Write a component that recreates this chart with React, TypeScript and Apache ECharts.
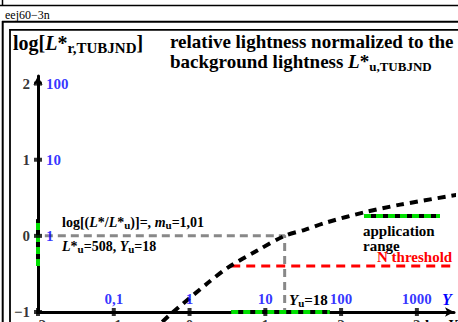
import React, { useEffect, useRef } from 'react';
import * as echarts from 'echarts';

// x: log Y (tristimulus value), y: log of relative lightness L*/L*u
const xTicks = [-2, -1, 0, 1, 2, 3];
const xTickLabels = ['−2', '−1', '0', '1', '2', '3'];
const yLinearTicks = [-1, 0, 1, 2, 3];
const yLinearLabels = ['0,1', '1', '10', '100', '1000'];
const yTicks = [-1, 0, 1, 2];
const yTickLabels = ['−1', '0', '1', '2'];
const ratioLabels = ['', '1', '10', '100'];

const curveLogY = [-0.36, -0.24, 0.24, 0.5, 0.9, 1.255, 1.52, 1.82, 2.31, 2.78, 3.54];
const curveLogL = [-1.13, -1.02, -0.62, -0.42, -0.19, 0.0, 0.08, 0.18, 0.31, 0.41, 0.54];

const Yu = 18;
const logYu = Math.log10(Yu);
const grayStartLogY = -1.91;
const thresholdLogL = -0.395;
const thresholdLogY = [0.55, 3.46];
const appRangeLogY = [0.55, 1.85];
const appRangeLogL = [-0.395, 0.22];

const FONT = '"Liberation Serif", "Times New Roman", serif';
const BLUE = '#0000ff';

const rich = (size: number, sub: number, lh: number) => ({
  b: { fontFamily: FONT, fontWeight: 'bold', fontSize: size, lineHeight: lh, fill: '#000' },
  bi: { fontFamily: FONT, fontWeight: 'bold', fontStyle: 'italic', fontSize: size, lineHeight: lh, fill: '#000' },
  s: { fontFamily: FONT, fontWeight: 'bold', fontSize: sub, lineHeight: Math.round(sub * 0.6), verticalAlign: 'bottom', fill: '#000' },
});

export default function App() {
  const ref = useRef<HTMLDivElement>(null);
  useEffect(() => {
    if (!ref.current) return;
    const chart = echarts.init(ref.current, null, { renderer: 'svg' });
    const blackLine = { color: '#000', width: 3 };
    const lbl = { fontFamily: FONT, fontWeight: 'bold', fontSize: 15 };
    const option: any = {
      animation: false,
      grid: { left: 38, right: 4, top: 76, bottom: 10 },
      xAxis: {
        type: 'value', min: -2, max: 3.49,
        axisLine: { show: true, onZero: false, lineStyle: blackLine, symbol: ['none', 'arrow'], symbolSize: [7, 9] },
        axisTick: { show: false }, axisLabel: { show: false }, splitLine: { show: false },
      },
      yAxis: {
        type: 'value', min: -1, max: 2.1, interval: 1,
        axisLine: { show: true, onZero: false, lineStyle: blackLine, symbol: ['none', 'arrow'], symbolSize: [7, 9] },
        axisTick: { show: false }, axisLabel: { show: false }, splitLine: { show: false },
      },
      series: [
        {
          type: 'line', symbol: 'none', clip: false, z: 3,
          data: [[grayStartLogY, 0], [logYu, 0], [logYu, -1]],
          lineStyle: { color: '#888', width: 3, type: [8, 5] },
        },
        {
          type: 'line', symbol: 'none', clip: false, z: 3,
          data: thresholdLogY.map((x) => [x, thresholdLogL]),
          lineStyle: { color: '#ff0000', width: 3, type: [9, 6] },
        },
        {
          type: 'line', symbol: 'none', clip: false, smooth: 0.3, z: 4,
          data: curveLogY.map((x, i) => [x, curveLogL[i]]),
          lineStyle: { color: '#000', width: 4, type: [8, 6] },
        },
        {
          type: 'line', symbol: 'none', clip: false, z: 5,
          data: appRangeLogY.map((x) => [x, -1]),
          lineStyle: { color: '#000', width: 4 },
        },
        {
          type: 'line', symbol: 'none', clip: false, z: 6,
          data: appRangeLogY.map((x) => [x, -1]),
          lineStyle: { color: '#00e000', width: 4, type: [7, 5] },
        },
        {
          type: 'line', symbol: 'none', clip: false, z: 5,
          data: appRangeLogL.map((y) => [-2, y]),
          lineStyle: { color: '#000', width: 4 },
        },
        {
          type: 'line', symbol: 'none', clip: false, z: 6,
          data: appRangeLogL.map((y) => [-2, y]),
          lineStyle: { color: '#00e000', width: 4, type: [7, 5] },
        },
        {
          type: 'scatter', clip: false, symbol: 'rect', symbolSize: [4, 8], z: 7,
          itemStyle: { color: '#000' },
          data: xTicks.map((x, i) => ({
            value: [x, -1],
            label: { show: true, position: 'bottom', distance: 1, formatter: xTickLabels[i], ...lbl, color: '#000' },
          })),
        },
        {
          type: 'scatter', clip: false, symbol: 'rect', symbolSize: 0.1, z: 7,
          itemStyle: { color: 'transparent' },
          data: yLinearTicks.map((x, i) => ({
            value: [x, -1],
            label: { show: true, position: 'top', distance: 5, formatter: yLinearLabels[i], ...lbl, color: BLUE },
          })),
        },
        {
          type: 'scatter', clip: false, symbol: 'rect', symbolSize: [8, 4], z: 7,
          itemStyle: { color: '#000' },
          data: yTicks.map((y, i) => ({
            value: [-2, y],
            label: { show: true, position: 'left', distance: 4, formatter: yTickLabels[i], ...lbl, color: '#000' },
          })),
        },
        {
          type: 'scatter', clip: false, symbol: 'rect', symbolSize: 0.1, z: 7,
          itemStyle: { color: 'transparent' },
          data: yTicks.map((y, i) => ({
            value: [-2, y],
            label: { show: true, position: 'right', distance: 8, formatter: ratioLabels[i], ...lbl, color: BLUE },
          })),
        },
      ],
      graphic: [
        // frame
        { type: 'line', shape: { x1: 0, y1: 5.5, x2: 458, y2: 5.5 }, style: { stroke: '#000', lineWidth: 1.5 } },
        { type: 'line', shape: { x1: 2.5, y1: 0, x2: 2.5, y2: 6 }, style: { stroke: '#000', lineWidth: 1.5 } },
        { type: 'text', x: 5, y: 9, style: { text: 'eej60−3n', fontFamily: FONT, fontSize: 12, fill: '#000' } },
        { type: 'line', shape: { x1: 2, y1: 21.8, x2: 458, y2: 21.8 }, style: { stroke: '#000', lineWidth: 2 } },
        { type: 'line', shape: { x1: 2.7, y1: 21, x2: 2.7, y2: 322 }, style: { stroke: '#000', lineWidth: 2 } },
        { type: 'line', shape: { x1: 9.5, y1: 29.8, x2: 458, y2: 29.8 }, style: { stroke: '#000', lineWidth: 1.8 } },
        { type: 'line', shape: { x1: 10, y1: 29, x2: 10, y2: 322 }, style: { stroke: '#000', lineWidth: 1.8 } },
        // titles
        {
          type: 'text', x: 13, y: 31,
          style: { text: '{b|log[}{bi|L}{b|*}{s|r,TUBJND}{b|]}', rich: rich(20, 15, 24) },
        },
        {
          type: 'text', x: 170, y: 30.5,
          style: { text: '{b|relative lightness normalized to the}', rich: rich(19, 13, 22) },
        },
        {
          type: 'text', x: 170, y: 50.5,
          style: { text: '{b|background lightness }{bi|L}{b|*}{s|u,TUBJND}', rich: rich(19, 13, 22) },
        },
        // annotations
        {
          type: 'text', x: 62, y: 214,
          style: { text: '{b|log[(}{bi|L}{b|*/}{bi|L}{b|*}{s|u}{b|)]=, }{bi|m}{s|u}{b|=1,01}', rich: rich(14, 11, 16) },
        },
        {
          type: 'text', x: 62, y: 238,
          style: { text: '{bi|L}{b|*}{s|u}{b|=508, }{bi|Y}{s|u}{b|=18}', rich: rich(14, 11, 16) },
        },
        {
          type: 'text', x: 289, y: 290.5,
          style: { text: '{bi|Y}{s|u}{b|=18}', rich: rich(15, 11, 18) },
        },
        { type: 'line', shape: { x1: 364, y1: 216, x2: 440, y2: 216 }, style: { stroke: '#000', lineWidth: 4 } },
        { type: 'line', shape: { x1: 364, y1: 216, x2: 440, y2: 216 }, style: { stroke: '#00e000', lineWidth: 4, lineDash: [7, 5] } },
        {
          type: 'text', x: 363, y: 223,
          style: { text: 'application\nrange', fontFamily: FONT, fontWeight: 'bold', fontSize: 15, lineHeight: 15, fill: '#000' },
        },
        {
          type: 'text', x: 377, y: 247.5,
          style: { text: 'N threshold', fontFamily: FONT, fontWeight: 'bold', fontSize: 15, lineHeight: 18, fill: '#ff0000' },
        },
        {
          type: 'text', x: 442, y: 291,
          style: { text: 'Y', fontFamily: FONT, fontWeight: 'bold', fontStyle: 'italic', fontSize: 16, fill: BLUE },
        },
        {
          type: 'text', x: 425, y: 316,
          style: { text: '{b|log }{bi|Y}', rich: rich(15, 11, 18) },
        },
      ],
    };
    chart.setOption(option);
    return () => chart.dispose();
  }, []);
  return <div ref={ref} style={{ position: 'fixed', left: 0, top: 0, width: 458, height: 322, background: '#fff' }} />;
}
